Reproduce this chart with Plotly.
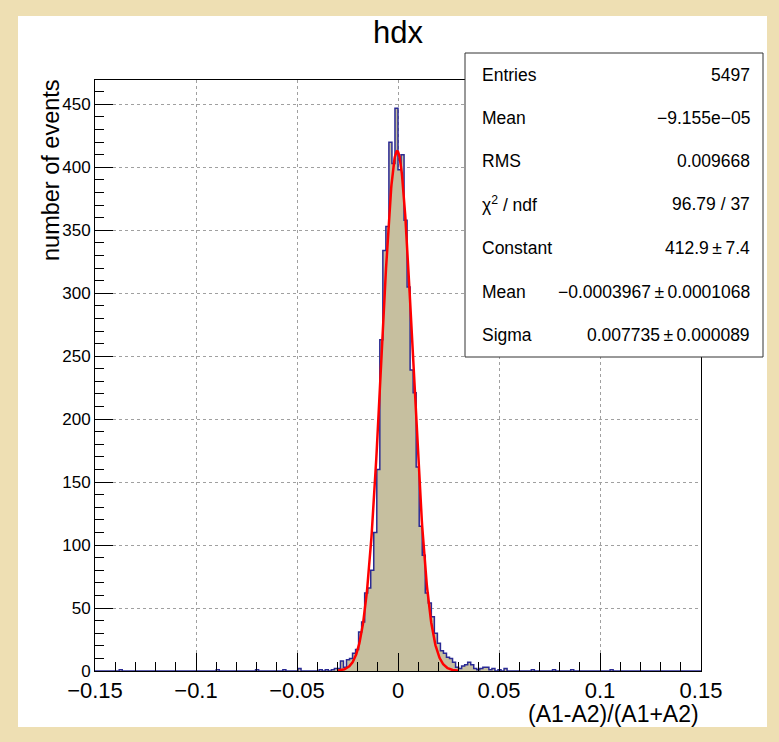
import numpy as np
import plotly.graph_objects as go

# ---------------- data ----------------
title_text = "hdx"
x_title = "(A1-A2)/(A1+A2)"
y_title = "number of events"

bin_low = -0.15
bin_width = 0.0015
counts = [
    0, 0, 0, 0, 0, 0, 0, 0, 1, 0, 0, 0, 0, 0, 0, 0, 0, 0, 0, 0,
    0, 0, 0, 0, 0, 0, 0, 0, 0, 0, 0, 0, 0, 0, 0, 0, 0, 0, 0, 0,
    1, 0, 0, 0, 0, 0, 0, 0, 0, 0, 0, 0, 0, 1, 0, 0, 0, 0, 0, 0,
    0, 0, 1, 0, 0, 0, 0, 2, 0, 0, 0, 0, 0, 0, 1, 0, 1, 0, 1, 2,
    2, 8, 3, 9, 10, 14, 17, 31, 39, 62, 66, 80, 110, 160, 263, 334, 353, 420, 403, 447,
    398, 410, 358, 305, 239, 221, 162, 115, 92, 62, 54, 43, 30, 22, 16, 14, 11, 10, 7, 3,
    2, 4, 5, 7, 5, 2, 1, 2, 3, 3, 1, 2, 0, 1, 0, 2, 0, 0, 0, 0,
    0, 0, 0, 0, 1, 0, 0, 0, 0, 0, 0, 1, 0, 0, 0, 0, 0, 1, 0, 0,
    0, 0, 0, 0, 0, 0, 0, 0, 0, 0, 1, 0, 0, 0, 0, 0, 0, 0, 0, 0,
    0, 0, 0, 0, 0, 0, 0, 0, 0, 0, 0, 0, 0, 0, 0, 0, 0, 0, 0, 0,
]

fit_constant = 412.9
fit_mean = -0.0003967
fit_sigma = 0.007735
fit_range = [-0.03, 0.03]

x_tick_vals = [-0.15, -0.1, -0.05, 0, 0.05, 0.1, 0.15]
x_tick_text = ["\u22120.15", "\u22120.1", "\u22120.05", "0", "0.05", "0.1", "0.15"]
y_tick_vals = [0, 50, 100, 150, 200, 250, 300, 350, 400, 450]

PM = "\u2009\u00b1\u2009"
stats_labels = ["Entries", "Mean", "RMS", "\u03c7<sup>2</sup> / ndf", "Constant", "Mean", "Sigma"]
stats_values = ["5497", "\u22129.155e\u221205", "0.009668", "96.79 / 37",
                "412.9" + PM + "7.4", "\u22120.0003967" + PM + "0.0001068", "0.007735" + PM + "0.000089"]

# ---------------- geometry helpers ----------------
W, H = 779, 742
ML, MR, MT, MB = 95, 78, 80, 71
PW = W - ML - MR
PH = H - MT - MB


def px_x(px):
    return (px - ML) / PW


def px_y(py):
    return (H - MB - py) / PH


FONT = "Liberation Sans, Arial, Helvetica, sans-serif"
PARCHMENT = "#eedfb3"

n_bins = len(counts)
edges = bin_low + bin_width * np.arange(n_bins + 1)
step_y = list(counts) + [counts[-1]]

xf = np.linspace(fit_range[0], fit_range[1], 400)
yf = fit_constant * np.exp(-0.5 * ((xf - fit_mean) / fit_sigma) ** 2)

fig = go.Figure()
fig.add_trace(go.Scatter(
    x=edges, y=step_y, mode="lines", line_shape="hv",
    fill="tozeroy", fillcolor="#c6bf9f",
    line=dict(color="#2a2a94", width=1.5), hoverinfo="skip", showlegend=False))
fig.add_trace(go.Scatter(
    x=xf, y=yf, mode="lines", line=dict(color="#ff0000", width=2.5),
    hoverinfo="skip", showlegend=False))

ymax = 1.05 * max(counts)

axis_common = dict(
    showline=True, linecolor="black", linewidth=1, mirror=True,
    ticks="inside", tickcolor="black", ticklen=18, tickwidth=1,
    showgrid=True, gridcolor="#a0a0a0", griddash="dot", gridwidth=1,
    zeroline=False,
)

fig.update_xaxes(
    range=[-0.15, 0.15], tickvals=x_tick_vals, ticktext=x_tick_text,
    minor=dict(dtick=0.01, ticklen=9, tickcolor="black", ticks="inside", showgrid=False),
    tickfont=dict(size=22, family=FONT, color="black"),
    **axis_common)
fig.update_yaxes(
    range=[0, ymax], tickvals=y_tick_vals,
    minor=dict(dtick=10, ticklen=9, tickcolor="black", ticks="inside", showgrid=False),
    tickfont=dict(size=17, family=FONT, color="black"),
    **axis_common)

shapes = [
    dict(type="rect", xref="paper", yref="paper", layer="below",
         x0=px_x(18), x1=px_x(767), y0=px_y(727), y1=px_y(16),
         fillcolor="white", line=dict(width=0)),
    dict(type="rect", xref="paper", yref="paper", layer="above",
         x0=px_x(465), x1=px_x(763), y0=px_y(357), y1=px_y(53),
         fillcolor="white", line=dict(color="#333333", width=1)),
]

annotations = [
    dict(text=title_text, x=px_x(398), y=px_y(33), xref="paper", yref="paper",
         showarrow=False, xanchor="center", yanchor="middle",
         font=dict(size=31, family=FONT, color="black")),
    dict(text=x_title, x=px_x(701), y=px_y(714), xref="paper", yref="paper",
         showarrow=False, xanchor="right", yanchor="middle",
         font=dict(size=23, family=FONT, color="black")),
    dict(text=y_title, x=px_x(51), y=px_y(170), xref="paper", yref="paper",
         showarrow=False, xanchor="center", yanchor="middle", textangle=-90,
         font=dict(size=23.5, family=FONT, color="black")),
]

row_y = [75, 118, 161, 204, 248, 292, 335]
for lab, val, ry in zip(stats_labels, stats_values, row_y):
    annotations.append(dict(text=lab, x=px_x(480), y=px_y(ry), xref="paper", yref="paper",
                            showarrow=False, xanchor="left", yanchor="middle",
                            font=dict(size=17.5, family=FONT, color="black")))
    annotations.append(dict(text=val, x=px_x(752), y=px_y(ry), xref="paper", yref="paper",
                            showarrow=False, xanchor="right", yanchor="middle",
                            font=dict(size=17.5, family=FONT, color="black")))

fig.update_layout(
    width=W, height=H, autosize=False,
    margin=dict(l=ML, r=MR, t=MT, b=MB, pad=0),
    paper_bgcolor=PARCHMENT, plot_bgcolor="white",
    shapes=shapes, annotations=annotations, showlegend=False,
    font=dict(family=FONT, color="black"),
)

fig.write_html(
    "out.html",
    config={"displayModeBar": False},
    post_script=("document.body.style.margin='0';"
                 "document.body.style.padding='0';"
                 "document.body.style.background='" + PARCHMENT + "';"),
)
